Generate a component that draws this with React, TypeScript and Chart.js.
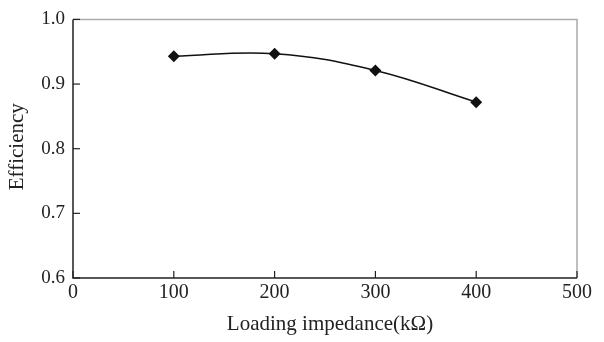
import React, { useEffect, useRef } from "react";
import { Chart, registerables } from "chart.js";

Chart.register(...registerables);

const impedance = [100, 200, 300, 400];
const efficiency = [0.943, 0.947, 0.921, 0.872];
const xTicks = [0, 100, 200, 300, 400, 500];
const yTicks = [0.6, 0.7, 0.8, 0.9, 1.0];
const xTitle = "Loading impedance(kΩ)";
const yTitle = "Efficiency";

const FONT = "'Liberation Serif', 'DejaVu Serif', serif";

const framePlugin = {
  id: "frame",
  afterDraw(chart: any) {
    const { ctx, chartArea: a, scales } = chart;
    ctx.save();
    ctx.lineWidth = 1.5;
    ctx.strokeStyle = "#aaaaaa";
    ctx.beginPath();
    ctx.moveTo(a.left, a.top);
    ctx.lineTo(a.right, a.top);
    ctx.lineTo(a.right, a.bottom);
    ctx.stroke();
    ctx.strokeStyle = "#222222";
    ctx.beginPath();
    ctx.moveTo(a.left, a.top);
    ctx.lineTo(a.left, a.bottom);
    ctx.lineTo(a.right, a.bottom);
    ctx.stroke();
    ctx.lineWidth = 1.2;
    for (const v of xTicks) {
      const x = scales.x.getPixelForValue(v);
      ctx.beginPath();
      ctx.moveTo(x, a.bottom);
      ctx.lineTo(x, a.bottom - 7);
      ctx.stroke();
    }
    for (const v of yTicks) {
      const y = scales.y.getPixelForValue(v);
      ctx.beginPath();
      ctx.moveTo(a.left, y);
      ctx.lineTo(a.left + 7, y);
      ctx.stroke();
    }
    // axis titles
    ctx.fillStyle = "#222";
    ctx.font = `21px ${FONT}`;
    ctx.textAlign = "center";
    ctx.textBaseline = "alphabetic";
    ctx.fillText(xTitle, (a.left + a.right) / 2 + 5, 330);
    ctx.translate(17, (a.top + a.bottom) / 2 - 2);
    ctx.rotate(-Math.PI / 2);
    ctx.textBaseline = "middle";
    ctx.fillText(yTitle, 0, 0);
    ctx.restore();
  },
};

export default function App() {
  const ref = useRef<HTMLCanvasElement>(null);
  useEffect(() => {
    const chart = new Chart(ref.current!, {
      type: "line",
      data: {
        datasets: [
          {
            data: impedance.map((x, i) => ({ x, y: efficiency[i] })),
            borderColor: "#111111",
            backgroundColor: "#111111",
            borderWidth: 1.5,
            pointStyle: "rectRot",
            pointRadius: 6,
            pointBorderWidth: 0,
            tension: 0.4,
          },
        ],
      },
      options: {
        animation: false,
        responsive: false,
        layout: { padding: { top: 16, right: 27, left: 0, bottom: 0 } },
        plugins: { legend: { display: false }, tooltip: { enabled: false } },
        scales: {
          x: {
            type: "linear",
            min: 0,
            max: 500,
            afterFit: (s: any) => { s.height = 64; },
            afterBuildTicks: (s: any) => { s.ticks = xTicks.map((v) => ({ value: v })); },
            grid: { display: false, drawTicks: false },
            border: { display: false },
            ticks: { color: "#222", font: { family: FONT, size: 20 }, padding: 3, maxRotation: 0 },
            title: { display: false },
          },
          y: {
            type: "linear",
            min: 0.6,
            max: 1.0,
            afterFit: (s: any) => { s.width = 73; },
            afterBuildTicks: (s: any) => { s.ticks = yTicks.map((v) => ({ value: v })); },
            grid: { display: false, drawTicks: false },
            border: { display: false },
            ticks: {
              color: "#222",
              font: { family: FONT, size: 19 },
              padding: 8,
              callback: (v: any) => Number(v).toFixed(1),
            },
            title: { display: false },
          },
        },
      } as any,
      plugins: [framePlugin],
    });
    return () => chart.destroy();
  }, []);
  return (
    <div style={{ position: "fixed", left: 0, top: 0, width: 604, height: 342, background: "#fff" }}>
      <canvas ref={ref} width={604} height={342} />
    </div>
  );
}
